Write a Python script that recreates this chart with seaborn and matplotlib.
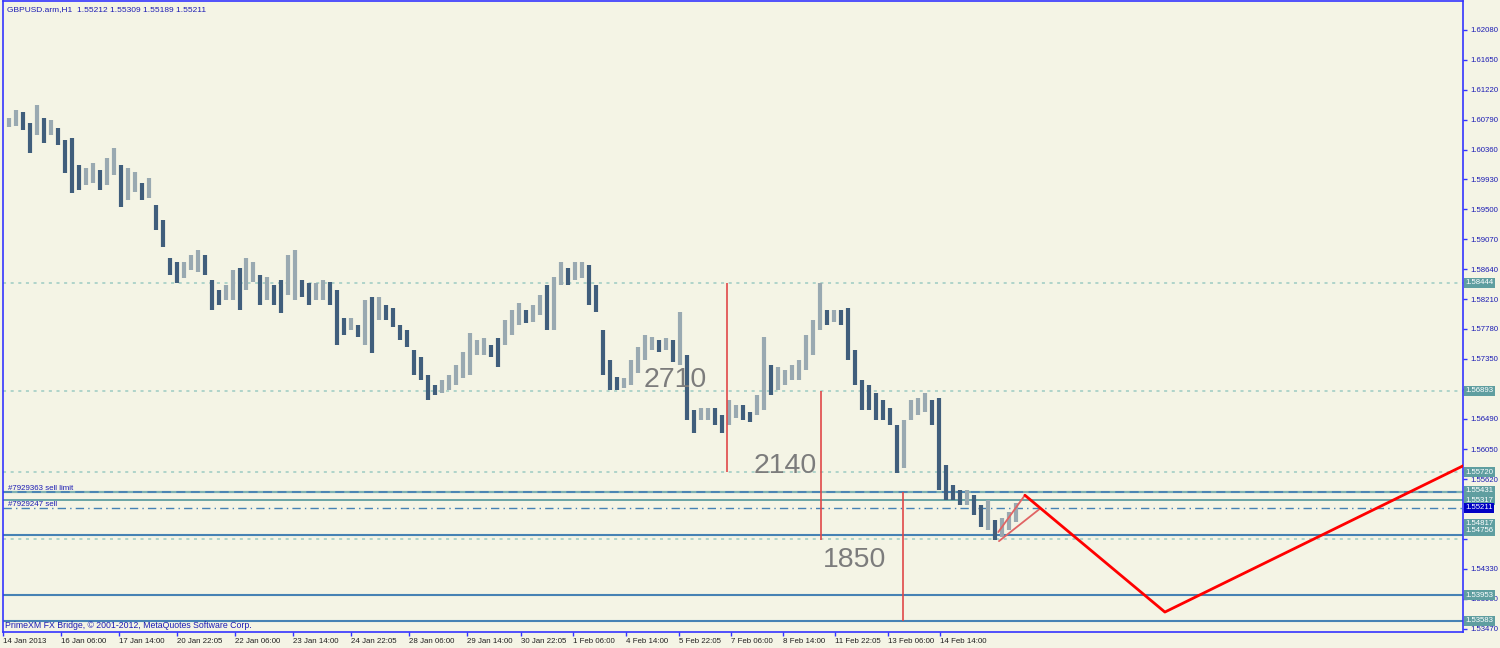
import numpy as np
import pandas as pd
import matplotlib
matplotlib.use('Agg')
import matplotlib.pyplot as plt
import seaborn as sns

highs = [1.6081, 1.6093, 1.6090, 1.6074, 1.6100, 1.6081, 1.6079, 1.6067, 1.6050, 1.6053,
         1.6014, 1.6010, 1.6017, 1.6007, 1.6024, 1.6038, 1.6014, 1.6010, 1.6004, 1.5988,
         1.5995, 1.5956, 1.5935, 1.5880, 1.5874, 1.5874, 1.5884, 1.5892, 1.5884, 1.5848,
         1.5834, 1.5841, 1.5863, 1.5866, 1.5880, 1.5874, 1.5856, 1.5853, 1.5841, 1.5848,
         1.5884, 1.5892, 1.5848, 1.5844, 1.5844, 1.5848, 1.5846, 1.5834, 1.5794, 1.5794,
         1.5784, 1.5820, 1.5824, 1.5824, 1.5813, 1.5808, 1.5784, 1.5777, 1.5748, 1.5738,
         1.5712, 1.5698, 1.5705, 1.5712, 1.5726, 1.5745, 1.5772, 1.5762, 1.5765, 1.5755,
         1.5765, 1.5791, 1.5805, 1.5815, 1.5805, 1.5813, 1.5827, 1.5841, 1.5853, 1.5874,
         1.5866, 1.5874, 1.5874, 1.5870, 1.5841, 1.5777, 1.5733, 1.5709, 1.5708, 1.5733,
         1.5752, 1.5769, 1.5767, 1.5762, 1.5765, 1.5762, 1.5802, 1.5741, 1.5662, 1.5664,
         1.5664, 1.5664, 1.5654, 1.5676, 1.5669, 1.5669, 1.5659, 1.5683, 1.5767, 1.5726,
         1.5723, 1.5719, 1.5726, 1.5733, 1.5769, 1.5791, 1.5844, 1.5805, 1.5805, 1.5805,
         1.5808, 1.5748, 1.5705, 1.5698, 1.5686, 1.5676, 1.5664, 1.5640, 1.5647, 1.5676,
         1.5679, 1.5686, 1.5676, 1.5679, 1.5582, 1.5554, 1.5547, 1.5547, 1.5539, 1.5525,
         1.5532, 1.5503, 1.5506, 1.5515, 1.5528]
lows = [1.6069, 1.6070, 1.6064, 1.6031, 1.6057, 1.6046, 1.6057, 1.6043, 1.6002, 1.5974,
        1.5978, 1.5985, 1.5988, 1.5978, 1.5985, 1.5999, 1.5953, 1.5964, 1.5975, 1.5964,
        1.5966, 1.5920, 1.5896, 1.5856, 1.5844, 1.5851, 1.5863, 1.5860, 1.5856, 1.5805,
        1.5813, 1.5820, 1.5820, 1.5805, 1.5834, 1.5846, 1.5813, 1.5820, 1.5813, 1.5801,
        1.5827, 1.5820, 1.5824, 1.5813, 1.5820, 1.5820, 1.5813, 1.5755, 1.5769, 1.5777,
        1.5767, 1.5755, 1.5744, 1.5791, 1.5791, 1.5781, 1.5762, 1.5752, 1.5712, 1.5705,
        1.5676, 1.5683, 1.5686, 1.5690, 1.5698, 1.5708, 1.5712, 1.5741, 1.5741, 1.5738,
        1.5723, 1.5755, 1.5769, 1.5784, 1.5787, 1.5788, 1.5798, 1.5777, 1.5777, 1.5841,
        1.5841, 1.5848, 1.5851, 1.5813, 1.5802, 1.5712, 1.5690, 1.5690, 1.5693, 1.5698,
        1.5715, 1.5733, 1.5748, 1.5745, 1.5748, 1.5731, 1.5726, 1.5647, 1.5628, 1.5647,
        1.5647, 1.5640, 1.5628, 1.5640, 1.5650, 1.5647, 1.5644, 1.5654, 1.5662, 1.5683,
        1.5690, 1.5698, 1.5705, 1.5705, 1.5719, 1.5741, 1.5777, 1.5784, 1.5788, 1.5784,
        1.5733, 1.5698, 1.5662, 1.5662, 1.5647, 1.5647, 1.5640, 1.5571, 1.5578, 1.5647,
        1.5654, 1.5659, 1.5640, 1.5547, 1.5532, 1.5532, 1.5525, 1.5525, 1.5511, 1.5493,
        1.5489, 1.5475, 1.5479, 1.5489, 1.5500]

# time axis labels and where they sit (in bar-record units)
time_labels = ['14 Jan 2013', '16 Jan 06:00', '17 Jan 14:00', '20 Jan 22:05', '22 Jan 06:00',
               '23 Jan 14:00', '24 Jan 22:05', '28 Jan 06:00', '29 Jan 14:00', '30 Jan 22:05',
               '1 Feb 06:00', '4 Feb 14:00', '5 Feb 22:05', '7 Feb 06:00', '8 Feb 14:00',
               '11 Feb 22:05', '13 Feb 06:00', '14 Feb 14:00']
time_pos = [-0.79, 7.5, 15.8, 24.1, 32.4, 40.6, 48.9, 57.2, 65.5, 73.2,
            80.6, 88.2, 95.8, 103.2, 110.6, 118.1, 125.6, 133.1]

price_ticks = [1.62080, 1.61650, 1.61220, 1.60790, 1.60360, 1.59930, 1.59500, 1.59070,
               1.58640, 1.58210, 1.57780, 1.57350, 1.56920, 1.56490, 1.56050, 1.55620,
               1.55190, 1.54760, 1.54330, 1.53900, 1.53470]
# scale labels that the price tags hide completely
hidden_ticks = [1.56920, 1.55190, 1.54760]

# horizontal levels
dotted_levels = [1.58444, 1.56893, 1.55720, 1.54756]
sell_limit = 1.55431
sell_order = 1.55317
bid = 1.55211
solid_levels = [1.54817, 1.53953, 1.53583]

# red measuring lines and their pip counts
meas_x = [102.6, 116.1, 127.8]
meas_top = [1.58444, 1.56893, 1.55431]
meas_bot = [1.55720, 1.54740, 1.53583]
meas_text = ['2710', '2140', '1850']
meas_text_x = [95.2, 110.9, 120.9]
meas_text_y = [1.5705, 1.5581, 1.5446]

# hand-drawn projection
zig_x = [145.2, 165.2, 212.0]
zig_y = [1.5539, 1.5371, 1.5602]
flag_a_x = [141.4, 145.2]
flag_a_y = [1.5486, 1.5539]
flag_b_x = [141.5, 147.4]
flag_b_y = [1.5473, 1.5520]

BG = '#f4f4e5'
BLUE = '#3434ff'
TXT = '#1c1cb4'
TEAL = '#5f9ea0'
STEEL = '#4682b4'

sns.set_style('white')
plt.rcParams['font.family'] = ['Liberation Sans', 'DejaVu Sans']

bars = pd.DataFrame({'high': highs, 'low': lows})
bars['idx'] = np.arange(len(bars))
mid = (bars['high'] + bars['low']) / 2
bars['down'] = mid.diff().fillna(0) < 0

fig = plt.figure(figsize=(15, 6.48), dpi=100, facecolor=BG)
ax = fig.add_axes([0.00167, 0.02392, 0.97367, 0.97377])
ax.set_facecolor(BG)

# levels
for lv in dotted_levels:
    ax.axhline(lv, color='#9ccbc3', ls=(0, (2, 3)), lw=1.1, zorder=1)
ax.axhline(sell_limit, color='#7fb3b3', lw=1.6, zorder=1)
ax.axhline(sell_limit, color=STEEL, ls=(0, (5, 3)), lw=1.3, zorder=1)
ax.axhline(sell_order, color=TEAL, lw=1.3, zorder=1)
ax.axhline(bid, color=STEEL, ls=(0, (6, 3, 1, 3)), lw=1.0, zorder=1)
for lv in solid_levels:
    ax.axhline(lv, color=STEEL, lw=1.5, zorder=1)

# price bars
up = bars[~bars['down']]
dn = bars[bars['down']]
ax.vlines(up['idx'], up['low'], up['high'], colors='#99a9b1', lw=3.0, zorder=2)
ax.vlines(dn['idx'], dn['low'], dn['high'], colors='#405e7c', lw=3.0, zorder=2)

# measuring lines
ax.vlines(meas_x, meas_bot, meas_top, colors='#e04848', lw=1.2, zorder=3)
for tx, ty, t in zip(meas_text_x, meas_text_y, meas_text):
    ax.text(tx, ty, t, fontsize=20.5, color='#7c7c7c', ha='center', va='center', zorder=4)

# projection lines
sns.lineplot(x=flag_a_x, y=flag_a_y, color='#e06464', lw=1.3, sort=False, estimator=None, ax=ax, zorder=4)
sns.lineplot(x=flag_b_x, y=flag_b_y, color='#e06464', lw=1.3, sort=False, estimator=None, ax=ax, zorder=4)
sns.lineplot(x=zig_x, y=zig_y, color='#ff0000', lw=2.0, sort=False, estimator=None, ax=ax, zorder=4)

ax.set_xlim(-0.857, 207.79)
ax.set_ylim(1.53416, 1.62489)

# axes styling
for s in ax.spines.values():
    s.set_color(BLUE)
    s.set_linewidth(1.2)
ax.yaxis.tick_right()
ax.set_yticks(price_ticks)
ax.set_yticklabels(['' if v in hidden_ticks else f'{v:.5f}' for v in price_ticks])
ax.tick_params(axis='y', right=True, left=False, direction='out', length=3, width=1,
               color=BLUE, labelcolor=TXT, labelsize=5.6, pad=2)
ax.set_xticks(time_pos)
ax.set_xticklabels(time_labels, ha='left')
ax.tick_params(axis='x', bottom=True, direction='out', length=3, width=1,
               color=BLUE, labelcolor='#202020', labelsize=5.7, pad=1)
ax.set_xlabel('')
ax.set_ylabel('')

# price tags on the right scale (MT4 nudges crowded tags upward)
yt = ax.get_yaxis_transform()
tags = [(1.58444, TEAL, 0), (1.56893, TEAL, 0), (1.55720, TEAL, 0), (1.55431, TEAL, 1),
        (1.55317, TEAL, 0), (1.54817, TEAL, 8), (1.54756, TEAL, 6), (1.53953, TEAL, 0),
        (1.53583, TEAL, 0), (bid, '#0000c4', 0)]
for v, fc, dy in tags:
    ax.annotate(f'{v:.5f}', xy=(1.0016, v), xycoords=yt, xytext=(0, dy),
                textcoords='offset points', ha='left', va='center', fontsize=5.6,
                color='white', annotation_clip=False, zorder=10,
                bbox=dict(boxstyle='square,pad=0.18', fc=fc, ec='none'))

# order labels
ax.text(0.004, sell_limit + 0.0001, '#7929363 sell limit', transform=yt, fontsize=5.7,
        color=TXT, ha='left', va='bottom', zorder=5)
ax.text(0.004, sell_order - 0.00005, '#7929247 sell', transform=yt, fontsize=5.7,
        color=TXT, ha='left', va='top', zorder=5)

fig.text(7 / 1500, 1 - 10 / 648, 'GBPUSD.arm,H1  1.55212 1.55309 1.55189 1.55211',
         fontsize=6, color=TXT, ha='left', va='center')
fig.text(5 / 1500, 1 - 625 / 648, 'PrimeXM FX Bridge, \u00a9 2001-2012, MetaQuotes Software Corp.',
         fontsize=6.3, color=TXT, ha='left', va='center')

fig.savefig('out.png', dpi=100, facecolor=BG)
